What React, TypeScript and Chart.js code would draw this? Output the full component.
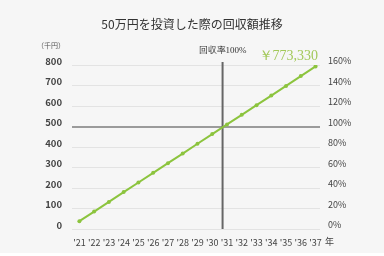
import React, { useEffect, useRef } from "react";
import { Chart, registerables } from "chart.js";

Chart.register(...registerables);

const years = [21, 22, 23, 24, 25, 26, 27, 28, 29, 30, 31, 32, 33, 34, 35, 36, 37];
const recovered = [38, 85, 132, 180, 227, 274, 321, 368, 416, 463, 510, 557, 604, 651, 698, 746, 793];
const leftTicks = [0, 100, 200, 300, 400, 500, 600, 700, 800];
const rightTicks = [0, 20, 40, 60, 80, 100, 120, 140, 160];
const investment = 500;
const paybackYear = 30.7;
const finalAmountLabel = "￥773,330";
const title = "50万円を投資した際の回収額推移";
const unitLabel = "（千円）";
const yearUnit = "年";
const paybackLabel = "回収率100%";

const GREEN = "#8cc43e";
const SANS = "'Noto Sans CJK JP', 'Noto Sans', sans-serif";
const SERIF = "'Liberation Serif', 'DejaVu Serif', serif";

const overlay = {
  id: "overlay",
  beforeDatasetsDraw(chart: any) {
    const { ctx, chartArea, scales } = chart;
    const x = scales.x.getPixelForValue(paybackYear);
    ctx.save();
    ctx.strokeStyle = "#666666";
    ctx.lineWidth = 2;
    ctx.beginPath();
    ctx.moveTo(x, chartArea.top - 3);
    ctx.lineTo(x, chartArea.bottom);
    ctx.stroke();
    ctx.restore();
  },
  afterDraw(chart: any) {
    const { ctx, chartArea, scales } = chart;
    ctx.save();
    ctx.textBaseline = "middle";
    ctx.fillStyle = "#333333";
    ctx.font = `12px ${SANS}`;
    ctx.textAlign = "center";
    ctx.fillText(title, 192, 24);
    ctx.fillStyle = "#555555";
    ctx.font = `7px ${SANS}`;
    ctx.textAlign = "left";
    ctx.fillText(unitLabel, 37, 45);
    const px = scales.x.getPixelForValue(paybackYear);
    ctx.fillStyle = "#333333";
    ctx.font = `9px ${SERIF}`;
    ctx.textAlign = "center";
    ctx.fillText(paybackLabel, px, 51);
    ctx.fillStyle = "#a3c95a";
    ctx.font = `14px ${SERIF}`;
    ctx.textAlign = "right";
    ctx.fillText(finalAmountLabel, chartArea.right - 2, 56);
    ctx.fillStyle = "#444444";
    ctx.font = `9px ${SANS}`;
    ctx.textAlign = "left";
    ctx.fillText(yearUnit, chartArea.right + 5, 242);
    ctx.restore();
  },
};

export default function App() {
  const ref = useRef<HTMLCanvasElement>(null);
  useEffect(() => {
    if (!ref.current) return;
    const chart = new Chart(ref.current, {
      type: "line",
      data: {
        datasets: [
          {
            data: years.map((y, i) => ({ x: y, y: recovered[i] })),
            borderColor: GREEN,
            backgroundColor: GREEN,
            borderWidth: 2,
            pointRadius: 2,
            pointBorderWidth: 0,
            pointBackgroundColor: GREEN,
            tension: 0,
          },
        ],
      },
      options: {
        animation: false,
        responsive: false,
        layout: { padding: { top: 65, left: 0, right: 0, bottom: 0 } },
        plugins: { legend: { display: false }, tooltip: { enabled: false } },
        scales: {
          x: {
            type: "linear",
            min: 20.5,
            max: 37.3,
            afterFit(s: any) { s.height = 27; },
            afterBuildTicks(s: any) { s.ticks = years.map((v) => ({ value: v })); },
            grid: { display: false, drawTicks: false },
            border: { display: false },
            ticks: {
              padding: 8,
              autoSkip: false,
              maxRotation: 0,
              minRotation: 0,
              color: "#444444",
              font: { family: SANS, size: 9 },
              callback: (v: any) => `'${v}`,
            },
          },
          y: {
            position: "left",
            min: 0,
            max: 800,
            afterFit(s: any) { s.width = 72; },
            afterBuildTicks(s: any) { s.ticks = leftTicks.map((v) => ({ value: v })); },
            border: { display: false },
            grid: {
              drawTicks: false,
              color: (c: any) => (c.tick && c.tick.value === investment ? "#9b9b9b" : "#e3e3e3"),
              lineWidth: (c: any) => (c.tick && c.tick.value === investment ? 2 : 1),
            },
            ticks: {
              padding: 10,
              labelOffset: -4,
              color: "#444444",
              font: { family: SANS, size: 9.5, weight: "bold" },
            },
          },
          y1: {
            position: "right",
            min: 0,
            max: 160,
            afterFit(s: any) { s.width = 64; },
            afterBuildTicks(s: any) { s.ticks = rightTicks.map((v) => ({ value: v })); },
            border: { display: false },
            grid: { display: false, drawTicks: false },
            ticks: {
              padding: 8,
              labelOffset: -4,
              color: "#444444",
              font: { family: SANS, size: 9 },
              callback: (v: any) => `${v}%`,
            },
          },
        },
      },
      plugins: [overlay],
    } as any);
    return () => chart.destroy();
  }, []);
  return (
    <div style={{ position: "absolute", left: 0, top: 0, width: 384, height: 256, background: "#ffffff" }}>
      <div style={{ position: "absolute", left: 0, top: 0, width: 384, height: 253, background: "#f6f6f6" }} />
      <canvas ref={ref} width={384} height={256} style={{ position: "absolute", left: 0, top: 0 }} />
    </div>
  );
}
